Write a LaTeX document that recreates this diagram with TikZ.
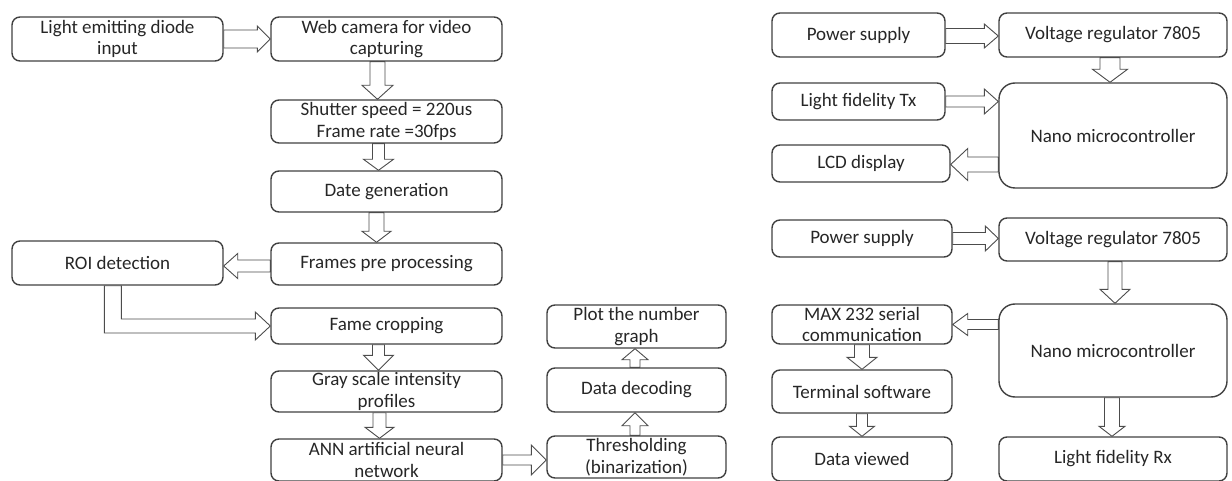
\documentclass[tikz,border=0pt]{standalone}
\usepackage{fontspec}
\setmainfont{Carlito}
\usetikzlibrary{calc}

% hollow block arrow: tail, tip, shaft half width, head half width, head length
\newcommand\fatarrow[5]{%
  \coordinate (fa tail) at #1;
  \coordinate (fa tip) at #2;
  \coordinate (fa base) at ($(fa tip)!#5!(fa tail)$);
  \draw[fat] ($(fa tail)!#3!90:(fa tip)$) -- ($(fa base)!#3!-90:(fa tail)$)
    -- ($(fa base)!#4!-90:(fa tail)$) -- (fa tip) -- ($(fa base)!#4!90:(fa tail)$)
    -- ($(fa base)!#3!90:(fa tail)$) -- ($(fa tail)!#3!-90:(fa tip)$) -- cycle;
}

\begin{document}
\begin{tikzpicture}
[x=1pt,y=-1pt,inner sep=0pt,
block/.style={rectangle,draw=black!75,line width=1.4pt,rounded corners=8pt,
  align=center,text=black!85,font=\fontsize{19}{21.5}\selectfont},
leftbox/.style={block,minimum width=231pt},
midbox/.style={block,minimum width=179pt},
rightbox/.style={block,minimum width=228pt},
fat/.style={draw=black!70,fill=white,line width=0.9pt,line join=miter}]
\useasboundingbox (0,0) rectangle (1232,481);
\clip (0,0) rectangle (1232,481);

% camera receiver chain
\node[block,minimum width=211pt,minimum height=44pt] (led input) at (117.5,39) {Light emitting diode\\input};
\node[leftbox,minimum height=44pt] (web camera) at (386.5,39) {Web camera for video\\capturing};
\node[leftbox,minimum height=43pt] (shutter) at (386.5,121.5) {Shutter speed = 220us\\Frame rate =30fps};
\node[leftbox,minimum height=41pt] (date gen) at (386.5,191.5) {Date generation};
\node[leftbox,minimum height=42pt] (frames pre) at (386.5,264) {Frames pre processing};
\node[block,minimum width=211pt,minimum height=44pt] (roi) at (117.5,263) {ROI detection};
\node[leftbox,minimum height=36pt] (fame crop) at (386.5,326) {Fame cropping};
\node[leftbox,minimum height=41pt] (gray scale) at (386.5,391.5) {Gray scale intensity\\profiles};
\node[leftbox,minimum height=42pt] (ann) at (386.5,460) {ANN artificial neural\\network};
\node[midbox,minimum height=42pt] (threshold) at (636.5,457) {Thresholding\\(binarization)};
\node[midbox,minimum height=44pt] (data decoding) at (636.5,390) {Data decoding};
\node[midbox,minimum height=43pt] (plot graph) at (636.5,326.5) {Plot the number\\graph};

% transmitter
\node[block,minimum width=173pt,minimum height=44pt] (power 1) at (858.5,35) {Power supply};
\node[rightbox,minimum height=44pt] (regulator 1) at (1113,35) {Voltage regulator 7805};
\node[block,minimum width=173pt,minimum height=37pt] (lifi tx) at (858.5,101.5) {Light fidelity Tx};
\node[block,minimum width=178pt,minimum height=37pt] (lcd) at (861,163.5) {LCD display};
\node[rightbox,minimum height=105pt,rounded corners=16pt] (nano 1) at (1113,135.5) {Nano microcontroller};

% receiver
\node[block,minimum width=180pt,minimum height=37pt] (power 2) at (862,238.5) {Power supply};
\node[rightbox,minimum height=43pt] (regulator 2) at (1113,239.5) {Voltage regulator 7805};
\node[rightbox,minimum height=93pt,rounded corners=16pt] (nano 2) at (1113,350.5) {Nano microcontroller};
\node[block,minimum width=180pt,minimum height=39pt] (max232) at (862,324.5) {MAX 232 serial\\communication};
\node[block,minimum width=180pt,minimum height=43pt] (terminal) at (862,391.5) {Terminal software};
\node[block,minimum width=180pt,minimum height=44pt] (data viewed) at (862,459) {Data viewed};
\node[rightbox,minimum height=44pt] (lifi rx) at (1113,459) {Light fidelity Rx};

% arrows
\fatarrow{(led input.east)}{(web camera.west)}{9pt}{13pt}{13pt}
\fatarrow{($(web camera.south)+(-9,0)$)}{($(shutter.north)+(-9,0)$)}{7.5pt}{15.5pt}{14pt}
\fatarrow{($(shutter.south)+(-8,0)$)}{($(date gen.north)+(-8,0)$)}{6pt}{15pt}{11pt}
\fatarrow{($(date gen.south)+(-10,0)$)}{($(frames pre.north)+(-10,0)$)}{7.5pt}{14.5pt}{11pt}
\fatarrow{($(frames pre.west)+(0,2)$)}{($(roi.east)+(0,3)$)}{6pt}{12.5pt}{14pt}
\draw[fat] ($(roi.south west)+(93,0)$) |- ($(fame crop.west)+(-15,7)$) -- ++(0,7)
  -- (fame crop.west) -- ($(fame crop.west)+(-15,-14)$) -- ++(0,7)
  -| ($(roi.south west)+(110,0)$) -- cycle;
\fatarrow{($(fame crop.south)+(-8,0)$)}{($(gray scale.north)+(-8,0)$)}{6pt}{15pt}{15pt}
\fatarrow{($(gray scale.south)+(-7,0)$)}{($(ann.north)+(-7,0)$)}{6.5pt}{14.5pt}{11pt}
\fatarrow{($(ann.east)+(0,0)$)}{($(threshold.west)+(0,3)$)}{5pt}{15pt}{15pt}
\fatarrow{($(threshold.north)+(-1.5,0)$)}{($(data decoding.south)+(-1.5,0)$)}{5pt}{13pt}{13pt}
\fatarrow{($(data decoding.north)+(-1.5,0)$)}{($(plot graph.south)+(-1.5,0)$)}{5pt}{13pt}{11pt}

\fatarrow{($(power 1.east)+(0,1)$)}{($(regulator 1.west)+(0,1)$)}{7.5pt}{12pt}{14pt}
\fatarrow{($(regulator 1.south)+(-3,0)$)}{($(nano 1.north)+(-3,0)$)}{10pt}{17.5pt}{13pt}
\fatarrow{(lifi tx.east)}{(nano 1.west |- lifi tx.east)}{5.5pt}{12.5pt}{14pt}
\fatarrow{($(nano 1.west |- lcd.east)+(0,1)$)}{($(lcd.east)+(0,1)$)}{7.5pt}{16pt}{17pt}

\fatarrow{(power 2.east)}{(regulator 2.west |- power 2.east)}{6pt}{12.5pt}{13pt}
\fatarrow{($(regulator 2.south)+(2,0)$)}{($(nano 2.north)+(2,0)$)}{7pt}{15pt}{14pt}
\fatarrow{(nano 2.west |- max232.east)}{(max232.east)}{5pt}{11pt}{15pt}
\fatarrow{(max232.south)}{(terminal.north)}{7.5pt}{15pt}{12pt}
\fatarrow{(terminal.south)}{(data viewed.north)}{5.5pt}{12.5pt}{10pt}
\fatarrow{($(nano 2.south)+(-1,0)$)}{($(lifi rx.north)+(-1,0)$)}{7.5pt}{13pt}{10pt}
\end{tikzpicture}
\end{document}
